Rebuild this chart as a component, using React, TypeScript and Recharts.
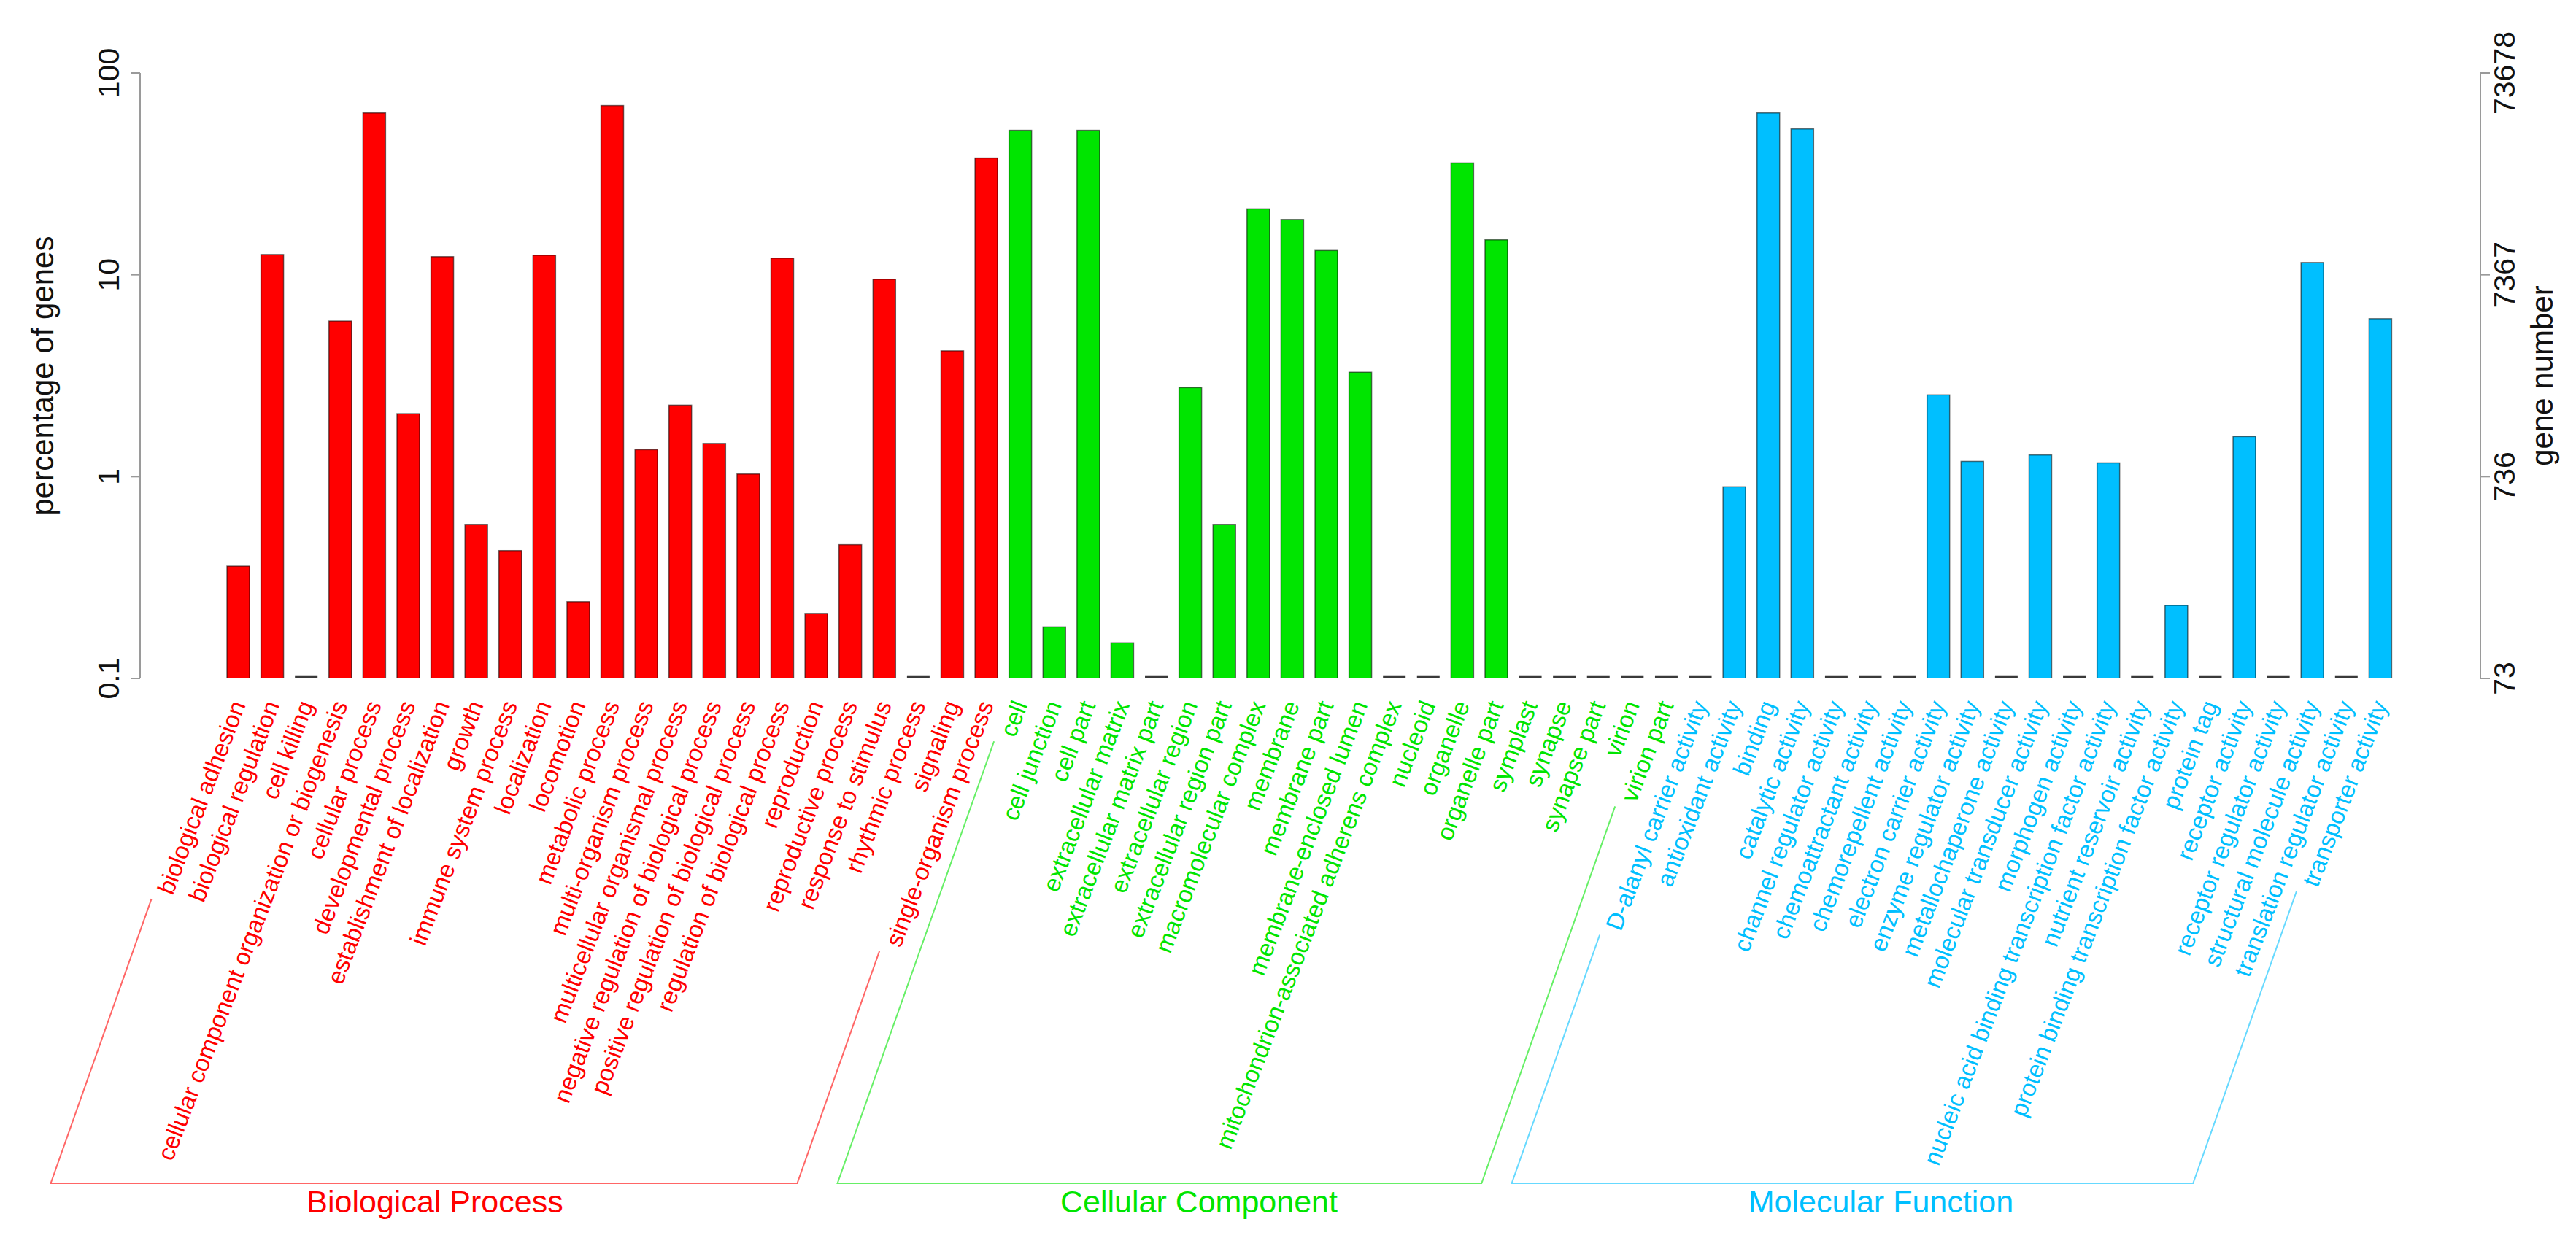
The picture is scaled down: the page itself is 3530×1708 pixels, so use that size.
import React from "react";
import { Bar, ComposedChart, Line, XAxis, YAxis } from "recharts";

// GO level-2 annotation, percent of genes per term (0 = no genes)
const bpTerms = [
  "biological adhesion",
  "biological regulation",
  "cell killing",
  "cellular component organization or biogenesis",
  "cellular process",
  "developmental process",
  "establishment of localization",
  "growth",
  "immune system process",
  "localization",
  "locomotion",
  "metabolic process",
  "multi-organism process",
  "multicellular organismal process",
  "negative regulation of biological process",
  "positive regulation of biological process",
  "regulation of biological process",
  "reproduction",
  "reproductive process",
  "response to stimulus",
  "rhythmic process",
  "signaling",
  "single-organism process",
];
const bpPercent = [
  0.36, 12.6, 0, 5.9, 63.4, 2.05, 12.3, 0.58, 0.43, 12.5, 0.24, 69, 1.36, 2.26,
  1.46, 1.03, 12.1, 0.21, 0.46, 9.5, 0, 4.2, 37.9,
];

const ccTerms = [
  "cell",
  "cell junction",
  "cell part",
  "extracellular matrix",
  "extracellular matrix part",
  "extracellular region",
  "extracellular region part",
  "macromolecular complex",
  "membrane",
  "membrane part",
  "membrane-enclosed lumen",
  "mitochondrion-associated adherens complex",
  "nucleoid",
  "organelle",
  "organelle part",
  "symplast",
  "synapse",
  "synapse part",
  "virion",
  "virion part",
];
const ccPercent = [
  52, 0.18, 52, 0.15, 0, 2.76, 0.58, 21.2, 18.8, 13.2, 3.29, 0, 0, 35.8, 14.9, 0,
  0, 0, 0, 0,
];

const mfTerms = [
  "D-alanyl carrier activity",
  "antioxidant activity",
  "binding",
  "catalytic activity",
  "channel regulator activity",
  "chemoattractant activity",
  "chemorepellent activity",
  "electron carrier activity",
  "enzyme regulator activity",
  "metallochaperone activity",
  "molecular transducer activity",
  "morphogen activity",
  "nucleic acid binding transcription factor activity",
  "nutrient reservoir activity",
  "protein binding transcription factor activity",
  "protein tag",
  "receptor activity",
  "receptor regulator activity",
  "structural molecule activity",
  "translation regulator activity",
  "transporter activity",
];
const mfPercent = [
  0, 0.89, 63.4, 52.8, 0, 0, 0, 2.54, 1.19, 0, 1.28, 0, 1.17, 0, 0.23, 0, 1.58, 0,
  11.5, 0, 6.06,
];

const groupTitles = ["Biological Process", "Cellular Component", "Molecular Function"];
const groupColors = ["#FF0000", "#00E500", "#00BFFF"];
const titleShift = [15, 54, 39];

const pctTicks = [0.1, 1, 10, 100];
const geneTickLabels = ["73", "736", "7367", "73678"];

// layout
const W = 3530;
const H = 1708;
const LEFT_W = 192;
const RIGHT_W = 131;
const TOP = 100;
const X_AXIS_H = 778;
const PAD_L = 111;
const PAD_R = 114;
const AXIS_MIN = 0.1;
const FONT = '"Liberation Sans", Arial, Helvetica, sans-serif';
const LABEL_SIZE = 33;
const LABEL_DROP = 32; // gap between baseline and label end
const ANGLE = 69;
const BRACKET_ANGLE = 70.5;
const FLOOR_Y = 1622;
const AXIS_GREY = "#9a9a9a";

const groups = [
  { terms: bpTerms, values: bpPercent },
  { terms: ccTerms, values: ccPercent },
  { terms: mfTerms, values: mfPercent },
];

const rows = groups.flatMap((g, gi) =>
  g.terms.map((term, i) => ({
    term,
    pct: g.values[i],
    plotted: g.values[i] > 0 ? g.values[i] : AXIS_MIN,
    group: gi,
    pos: i,
    size: g.terms.length,
  }))
);
const rowByTerm = new Map(rows.map((r) => [r.term, r]));

const BAND = (W - LEFT_W - RIGHT_W - PAD_L - PAD_R) / rows.length;

let measureCtx: CanvasRenderingContext2D | null = null;
function labelWidth(s: string): number {
  if (!measureCtx) measureCtx = document.createElement("canvas").getContext("2d");
  if (!measureCtx) return s.length * LABEL_SIZE * 0.5;
  measureCtx.font = `${LABEL_SIZE}px ${FONT}`;
  return measureCtx.measureText(s).width;
}

const rad = (ANGLE * Math.PI) / 180;
const ux = -Math.cos(rad);
const uy = Math.sin(rad);
const bRad = (BRACKET_ANGLE * Math.PI) / 180;

// point just past the start of a rotated label, shifted to its upper edge
function bracketTop(ax: number, ay: number, term: string) {
  const d = labelWidth(term) + 14;
  return { x: ax + ux * d - Math.sin(rad) * 14, y: ay + uy * d - Math.cos(rad) * 14 };
}
function toFloor(p: { x: number; y: number }) {
  return { x: p.x - (FLOOR_Y - p.y) / Math.tan(bRad), y: FLOOR_Y };
}

function BarShape(props: any) {
  const { x, y, width, height, payload } = props;
  if (payload.pct <= 0) {
    const yb = y + height - 2;
    return <line x1={x} x2={x + width} y1={yb} y2={yb} stroke="#3a3a3a" strokeWidth={4.5} />;
  }
  return (
    <rect
      x={x}
      y={y}
      width={width}
      height={height}
      fill={groupColors[payload.group]}
      stroke="rgba(0,0,0,0.55)"
      strokeWidth={1.5}
    />
  );
}

function TermTick(props: any) {
  const { x, y, payload } = props;
  const row = rowByTerm.get(payload.value);
  if (!row) return null;
  const color = groupColors[row.group];
  const ay = y + LABEL_DROP;
  const parts: React.ReactNode[] = [
    <text
      key="t"
      x={x}
      y={ay}
      transform={`rotate(${-ANGLE} ${x} ${ay})`}
      textAnchor="end"
      dominantBaseline="central"
      fontSize={LABEL_SIZE}
      fontFamily={FONT}
      fill={color}
    >
      {row.term}
    </text>,
  ];
  if (row.pos === row.size - 1) {
    const g = groups[row.group];
    const firstX = x - (row.size - 1) * BAND;
    const lt = bracketTop(firstX, ay, g.terms[0]);
    const rt = bracketTop(x, ay, row.term);
    const lb = toFloor(lt);
    const rb = toFloor(rt);
    parts.push(
      <polyline
        key="b"
        points={`${lt.x},${lt.y} ${lb.x},${lb.y} ${rb.x},${rb.y} ${rt.x},${rt.y}`}
        fill="none"
        stroke={color}
        strokeOpacity={0.6}
        strokeWidth={2}
      />,
      <text
        key="g"
        x={(lb.x + rb.x) / 2 + titleShift[row.group]}
        y={FLOOR_Y + 40}
        textAnchor="middle"
        fontSize={43}
        fontFamily={FONT}
        fill={color}
      >
        {groupTitles[row.group]}
      </text>
    );
  }
  return <g>{parts}</g>;
}

function PctTick(props: any) {
  const { x, y, payload } = props;
  const bx = x - 16;
  return (
    <text
      x={bx}
      y={y}
      transform={`rotate(-90 ${bx} ${y})`}
      textAnchor="middle"
      fontSize={41}
      fontFamily={FONT}
      fill="#111"
    >
      {String(payload.value)}
    </text>
  );
}

function GeneTick(props: any) {
  const { x, y, index } = props;
  const bx = x + 34;
  return (
    <text
      x={bx}
      y={y}
      transform={`rotate(-90 ${bx} ${y})`}
      textAnchor="middle"
      fontSize={41}
      fontFamily={FONT}
      fill="#111"
    >
      {geneTickLabels[index]}
    </text>
  );
}

function AxisTitle({ text, bx }: { text: string; bx: number }) {
  const cy = TOP + (H - TOP - X_AXIS_H) / 2;
  return (
    <text
      x={bx}
      y={cy}
      transform={`rotate(-90 ${bx} ${cy})`}
      textAnchor="middle"
      fontSize={42}
      fontFamily={FONT}
      fill="#111"
    >
      {text}
    </text>
  );
}

export default function App() {
  return (
    <div style={{ position: "absolute", left: 0, top: 0, width: W, height: H, background: "#fff" }}>
      <ComposedChart
        width={W}
        height={H}
        data={rows}
        margin={{ top: TOP, right: 0, bottom: 0, left: 0 }}
      >
        <XAxis
          dataKey="term"
          interval={0}
          height={X_AXIS_H}
          padding={{ left: PAD_L, right: PAD_R }}
          axisLine={false}
          tickLine={false}
          tickSize={0}
          tickMargin={0}
          tick={<TermTick />}
        />
        <YAxis
          yAxisId="left"
          width={LEFT_W}
          scale="log"
          domain={[0.1, 100]}
          ticks={pctTicks}
          allowDataOverflow
          axisLine={{ stroke: AXIS_GREY, strokeWidth: 2 }}
          tickLine={{ stroke: AXIS_GREY, strokeWidth: 2 }}
          tickSize={13}
          tickMargin={0}
          tick={<PctTick />}
          label={<AxisTitle text="percentage of genes" bx={73} />}
        />
        <YAxis
          yAxisId="right"
          orientation="right"
          width={RIGHT_W}
          scale="log"
          domain={[0.1, 100]}
          ticks={pctTicks}
          allowDataOverflow
          axisLine={{ stroke: AXIS_GREY, strokeWidth: 2 }}
          tickLine={{ stroke: AXIS_GREY, strokeWidth: 2 }}
          tickSize={13}
          tickMargin={0}
          tick={<GeneTick />}
          label={<AxisTitle text="gene number" bx={3498} />}
        />
        <Bar
          yAxisId="left"
          dataKey="plotted"
          barSize={31}
          shape={<BarShape />}
          isAnimationActive={false}
        />
        <Line
          yAxisId="right"
          dataKey="plotted"
          stroke="none"
          dot={false}
          activeDot={false}
          legendType="none"
          isAnimationActive={false}
        />
      </ComposedChart>
    </div>
  );
}
